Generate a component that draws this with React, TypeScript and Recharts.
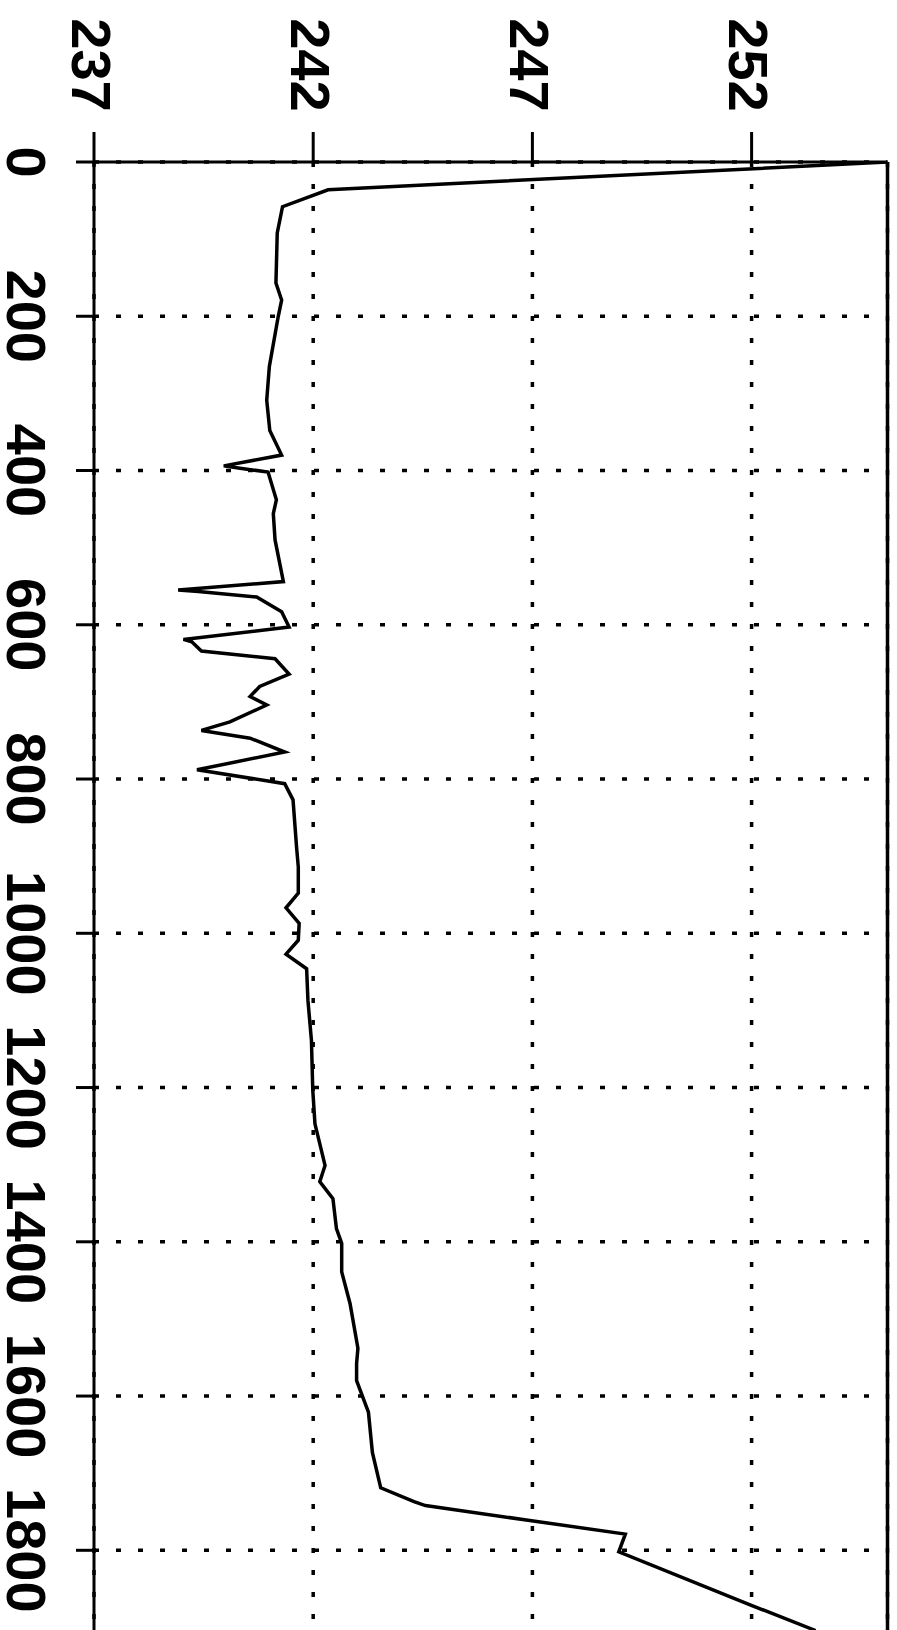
import {
  CartesianGrid,
  Line,
  LineChart,
  ReferenceLine,
  XAxis,
  YAxis
} from "recharts";

// depth along the left axis, reading along the top axis
const depths = [
  0, 36, 58, 92, 157, 179, 201, 265, 309, 348, 380, 394, 397, 402, 438, 456,
  490, 544, 555, 557, 564, 583, 603, 619, 622, 634, 644, 664, 680, 693, 704,
  726, 737, 747, 765, 788, 806, 827, 888, 914, 948, 967, 987, 1009, 1027,
  1046, 1087, 1139, 1203, 1247, 1301, 1322, 1344, 1383, 1402, 1439, 1480,
  1538, 1558, 1580, 1621, 1673, 1719, 1737, 1742, 1761, 1779, 1802, 1871,
  1904
];

const readings = [
  255.1, 242.34, 241.3, 241.18, 241.15, 241.28, 241.2, 241.0, 240.94, 241.01,
  241.28, 239.96, 240.33, 240.97, 241.16, 241.09, 241.13, 241.32, 238.92,
  239.38, 240.71, 241.28, 241.45, 239.04, 239.23, 239.45, 241.13, 241.45,
  240.78, 240.56, 240.94, 240.1, 239.45, 240.56, 241.35, 239.35, 241.35,
  241.54, 241.62, 241.66, 241.66, 241.38, 241.68, 241.66, 241.38, 241.85,
  241.88, 241.96, 241.99, 242.04, 242.27, 242.15, 242.45, 242.53, 242.65,
  242.65, 242.84, 243.02, 242.99, 242.99, 243.26, 243.35, 243.54, 244.3,
  244.56, 246.9, 249.12, 248.97, 251.98, 253.46
];

const valueTicks = [237, 242, 247, 252];
const depthTicks = [0, 200, 400, 600, 800, 1000, 1200, 1400, 1600, 1800];

const data = depths.map((depth, i) => ({ depth, value: readings[i] }));

const labelFont = {
  fontFamily: "'Liberation Sans', Arial, sans-serif",
  fontWeight: 700,
  fontSize: 56,
  fill: "#000"
};

// labels are turned a quarter clockwise, like the scanned original
function TopTick(props: any) {
  const { x, payload } = props;
  const cx = x - 3;
  const cy = 65;
  return (
    <text
      x={cx}
      y={cy}
      textAnchor="middle"
      dominantBaseline="central"
      transform={`rotate(90, ${cx}, ${cy})`}
      {...labelFont}
    >
      {payload.value}
    </text>
  );
}

function LeftTick(props: any) {
  const { y, payload } = props;
  const cx = 26;
  const cy = y;
  return (
    <text
      x={cx}
      y={cy}
      textAnchor="middle"
      dominantBaseline="central"
      transform={`rotate(90, ${cx}, ${cy})`}
      {...labelFont}
    >
      {payload.value}
    </text>
  );
}

export default function App() {
  return (
    <div
      style={{
        position: "fixed",
        top: 0,
        left: 0,
        width: 897,
        height: 1630,
        overflow: "hidden",
        background: "#fff"
      }}
    >
      <LineChart
        width={897}
        height={1666}
        data={data}
        layout="vertical"
        margin={{ top: 0, right: 9.5, bottom: 0, left: 0 }}
      >
        <CartesianGrid
          stroke="#000"
          strokeWidth={3.5}
          strokeDasharray="5 17"
        />
        <XAxis
          type="number"
          dataKey="value"
          orientation="top"
          domain={[237, 255.1]}
          allowDataOverflow
          ticks={valueTicks}
          height={162}
          tickSize={30}
          axisLine={{ stroke: "#000", strokeWidth: 3 }}
          tickLine={{ stroke: "#000", strokeWidth: 3 }}
          tick={<TopTick />}
        />
        <YAxis
          type="number"
          dataKey="depth"
          domain={[0, 1950]}
          allowDataOverflow
          ticks={depthTicks}
          width={94}
          tickSize={18}
          axisLine={{ stroke: "#000", strokeWidth: 3 }}
          tickLine={{ stroke: "#000", strokeWidth: 3 }}
          tick={<LeftTick />}
        />
        <ReferenceLine x={255.1} stroke="#000" strokeWidth={3.5} />
        <Line
          type="linear"
          dataKey="value"
          stroke="#000"
          strokeWidth={3.5}
          dot={false}
          isAnimationActive={false}
        />
      </LineChart>
    </div>
  );
}
